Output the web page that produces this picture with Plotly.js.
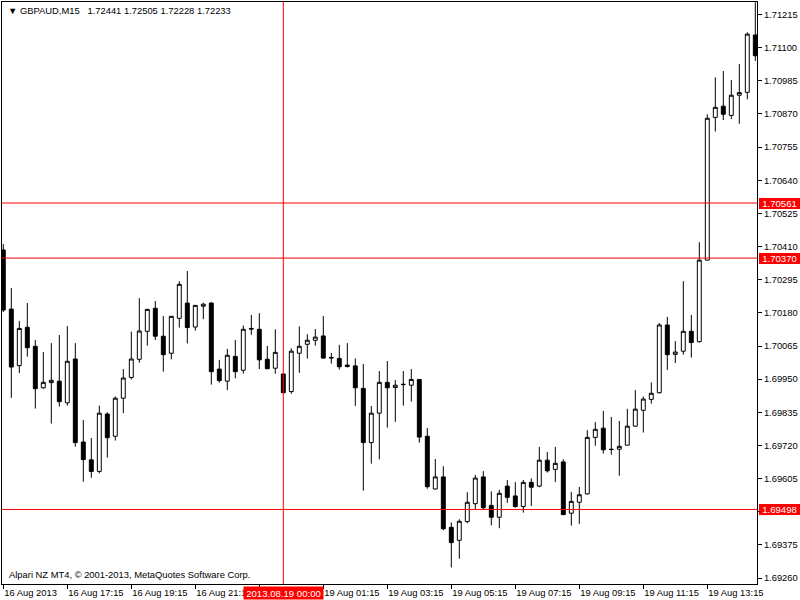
<!DOCTYPE html>
<html>
<head>
<meta charset="utf-8">
<script src="https://cdn.plot.ly/plotly-3.0.1.min.js"></script>
<style>html,body{margin:0;padding:0;background:#fff;}#chart{width:800px;height:600px;}</style>
</head>
<body>
<div id="chart"></div>
<script>
// GBPAUD M15 candles, 16 Aug 2013 15:15 -> 19 Aug 2013 14:45 (index positions)
const openP = [1.70398,1.70193,1.69997,1.70130,1.70064,1.69920,1.69938,1.69943,1.69868,1.70020,
1.69732,1.69670,1.69630,1.69829,1.69752,1.69884,1.69956,1.70019,1.70116,1.70196,
1.70099,1.70040,1.70161,1.70214,1.70131,1.70203,1.70214,1.69985,1.69943,1.70029,
1.69981,1.70126,1.70123,1.70019,1.69988,1.69968,1.69907,1.70040,1.70071,1.70085,
1.70100,1.70025,1.70022,1.69999,1.69996,1.69918,1.69730,1.69832,1.69939,1.69921,
1.69931,1.69929,1.69949,1.69752,1.69569,1.69611,1.69436,1.69391,1.69456,1.69518,
1.69611,1.69512,1.69471,1.69579,1.69545,1.69508,1.69592,1.69579,1.69669,1.69637,
1.69663,1.69485,1.69523,1.69552,1.69748,1.69780,1.69707,1.69707,1.69721,1.69787,
1.69842,1.69880,1.69903,1.70138,1.70036,1.70047,1.70116,1.70080,1.70363,1.70858,
1.70897,1.70865,1.70935,1.70945,1.71144];
const highP = [1.70419,1.70266,1.70152,1.70214,1.70086,1.70044,1.70075,1.70103,1.70134,1.70075,
1.69808,1.69746,1.69858,1.69835,1.69890,1.69985,1.70115,1.70231,1.70194,1.70221,
1.70169,1.70169,1.70290,1.70325,1.70207,1.70215,1.70217,1.70017,1.70055,1.70086,
1.70136,1.70173,1.70179,1.70065,1.70123,1.69968,1.70057,1.70133,1.70106,1.70124,
1.70169,1.70041,1.70069,1.70075,1.70022,1.70003,1.69857,1.69978,1.70013,1.69947,
1.69978,1.69985,1.69950,1.69781,1.69673,1.69648,1.69453,1.69464,1.69558,1.69618,
1.69631,1.69561,1.69566,1.69600,1.69593,1.69600,1.69606,1.69715,1.69697,1.69715,
1.69672,1.69559,1.69576,1.69773,1.69801,1.69840,1.69819,1.69805,1.69847,1.69912,
1.69890,1.69939,1.70145,1.70166,1.70082,1.70290,1.70173,1.70425,1.70869,1.70997,
1.71019,1.70988,1.71043,1.71153,1.71258];
const lowP = [1.70183,1.69885,1.69971,1.70028,1.69848,1.69917,1.69796,1.69855,1.69858,1.69716,
1.69594,1.69608,1.69623,1.69678,1.69737,1.69832,1.69949,1.70007,1.70066,1.70086,
1.69976,1.70019,1.70129,1.70074,1.70118,1.70158,1.69931,1.69938,1.69912,1.69953,
1.69969,1.70104,1.69985,1.69986,1.69969,1.69903,1.69899,1.69972,1.70021,1.70066,
1.70021,1.70004,1.69983,1.69990,1.69857,1.69563,1.69657,1.69672,1.69782,1.69802,
1.69858,1.69872,1.69730,1.69570,1.69568,1.69426,1.69297,1.69327,1.69450,1.69499,
1.69496,1.69443,1.69433,1.69521,1.69504,1.69487,1.69510,1.69575,1.69626,1.69593,
1.69480,1.69442,1.69448,1.69550,1.69719,1.69692,1.69688,1.69615,1.69720,1.69786,
1.69765,1.69865,1.69900,1.69982,1.70006,1.70035,1.70025,1.70077,1.70362,1.70809,
1.70849,1.70852,1.70836,1.70921,1.71054];
const closeP = [1.70190,1.69992,1.70126,1.70059,1.69917,1.69939,1.69946,1.69872,1.70012,1.69730,
1.69671,1.69630,1.69832,1.69747,1.69884,1.69954,1.70020,1.70117,1.70192,1.70099,
1.70035,1.70168,1.70279,1.70129,1.70206,1.70210,1.69976,1.69945,1.70033,1.69976,
1.70123,1.70124,1.70017,1.69986,1.70043,1.69903,1.70047,1.70064,1.70085,1.70096,
1.70023,1.70024,1.69993,1.69994,1.69920,1.69730,1.69832,1.69939,1.69920,1.69929,
1.69932,1.69949,1.69749,1.69577,1.69611,1.69431,1.69383,1.69457,1.69523,1.69607,
1.69504,1.69471,1.69554,1.69540,1.69508,1.69592,1.69575,1.69669,1.69632,1.69658,
1.69480,1.69526,1.69549,1.69748,1.69776,1.69705,1.69706,1.69717,1.69787,1.69846,
1.69881,1.69901,1.70138,1.70035,1.70044,1.70116,1.70077,1.70363,1.70855,1.70893,
1.70869,1.70935,1.70944,1.71147,1.71072];

const timeTickIdx = [0,8,16,24,32,40,48,56,64,72,80,88];
// the 23:15 label is hidden behind the crosshair date box in the reference
const timeTickText = ["16 Aug 2013","16 Aug 17:15","16 Aug 19:15","16 Aug 21:15","",
  "19 Aug 01:15","19 Aug 03:15","19 Aug 05:15","19 Aug 07:15","19 Aug 09:15","19 Aug 11:15","19 Aug 13:15"];
const priceTicks = [1.69260,1.69375,1.69490,1.69605,1.69720,1.69835,1.69950,1.70065,1.70180,
  1.70295,1.70410,1.70525,1.70640,1.70755,1.70870,1.70985,1.71100,1.71215];
// 1.69490 label is covered by the 1.69498 level box in the reference
const priceTickText = ["1.69260","1.69375","","1.69605","1.69720","1.69835","1.69950","1.70065","1.70180",
  "1.70295","1.70410","1.70525","1.70640","1.70755","1.70870","1.70985","1.71100","1.71215"];
const levelLines = [1.70561,1.70370,1.69498];
const crossIdx = 35;
const crossLabel = "2013.08.19 00:00";
const headerText = "\u25BC GBPAUD,M15\u00A0\u00A0 1.72441 1.72505 1.72228 1.72233";
const footerText = "Alpari NZ MT4, \u00A9 2001-2013, MetaQuotes Software Corp.";

const xIdx = openP.map((_, i) => i);
const FONT = "Liberation Sans, Arial, sans-serif";

const trace = {
  type: 'candlestick',
  x: xIdx, open: openP, high: highP, low: lowP, close: closeP,
  increasing: {line: {color: '#000', width: 1}, fillcolor: '#fff'},
  decreasing: {line: {color: '#000', width: 1}, fillcolor: '#000'},
  whiskerwidth: 0,
  hoverinfo: 'skip',
  showlegend: false
};

const shapes = levelLines.map(v => ({
  type: 'line', xref: 'paper', x0: 0, x1: 1, yref: 'y', y0: v, y1: v,
  line: {color: '#ff0000', width: 1}, layer: 'above'
}));
shapes.push({type: 'line', xref: 'x', x0: crossIdx, x1: crossIdx, yref: 'paper', y0: 0, y1: 1,
  line: {color: '#ff0000', width: 1}, layer: 'above'});

const annotations = levelLines.map(v => ({
  xref: 'paper', x: 1, xanchor: 'left', xshift: 2,
  yref: 'y', y: v, yanchor: 'middle',
  text: v.toFixed(5), showarrow: false, align: 'center',
  bgcolor: '#ff0000', font: {family: FONT, size: 9.6, color: '#fff'},
  width: 41, height: 11, borderpad: 0, borderwidth: 0
}));
annotations.push({
  xref: 'x', x: crossIdx, xanchor: 'center', yref: 'paper', y: 0, yanchor: 'top', yshift: -2,
  text: crossLabel, showarrow: false, bgcolor: '#ff0000',
  font: {family: FONT, size: 9.6, color: '#fff'}, width: 79, height: 12, borderpad: 0
});
annotations.push({
  xref: 'paper', x: 0, xanchor: 'left', xshift: 4, yref: 'paper', y: 1, yanchor: 'middle', yshift: -8,
  text: headerText, showarrow: false, font: {family: FONT, size: 9.4, color: '#000'}
});
annotations.push({
  xref: 'paper', x: 0, xanchor: 'left', xshift: 5, yref: 'paper', y: 0, yanchor: 'middle', yshift: 10,
  text: footerText, showarrow: false, font: {family: FONT, size: 9.4, color: '#000'}
});

const layout = {
  width: 800, height: 600,
  margin: {l: 2, r: 43, t: 2, b: 16},
  paper_bgcolor: '#fff', plot_bgcolor: '#fff',
  font: {family: FONT, size: 9.4, color: '#000'},
  showlegend: false,
  xaxis: {
    range: [-0.1625, 94.2125], rangeslider: {visible: false},
    showgrid: false, zeroline: false, showline: true, mirror: true,
    linecolor: '#000', linewidth: 1,
    ticks: 'outside', ticklen: 4, tickcolor: '#000', tickwidth: 1,
    tickmode: 'array', tickvals: timeTickIdx, ticktext: timeTickText,
    tickangle: 0,
    ticklabelposition: 'outside right',
    tickfont: {family: FONT, size: 9.4, color: '#000'}
  },
  yaxis: {
    side: 'right', range: [1.692394, 1.712584],
    showgrid: false, zeroline: false, showline: true, mirror: true,
    linecolor: '#000', linewidth: 1,
    ticks: 'outside', ticklen: 4, tickcolor: '#000', tickwidth: 1,
    tickmode: 'array', tickvals: priceTicks, ticktext: priceTickText,
    tickfont: {family: FONT, size: 9.4, color: '#000'}
  },
  shapes: shapes,
  annotations: annotations
};

Plotly.newPlot('chart', [trace], layout, {staticPlot: true, displayModeBar: false});
</script>
</body>
</html>
